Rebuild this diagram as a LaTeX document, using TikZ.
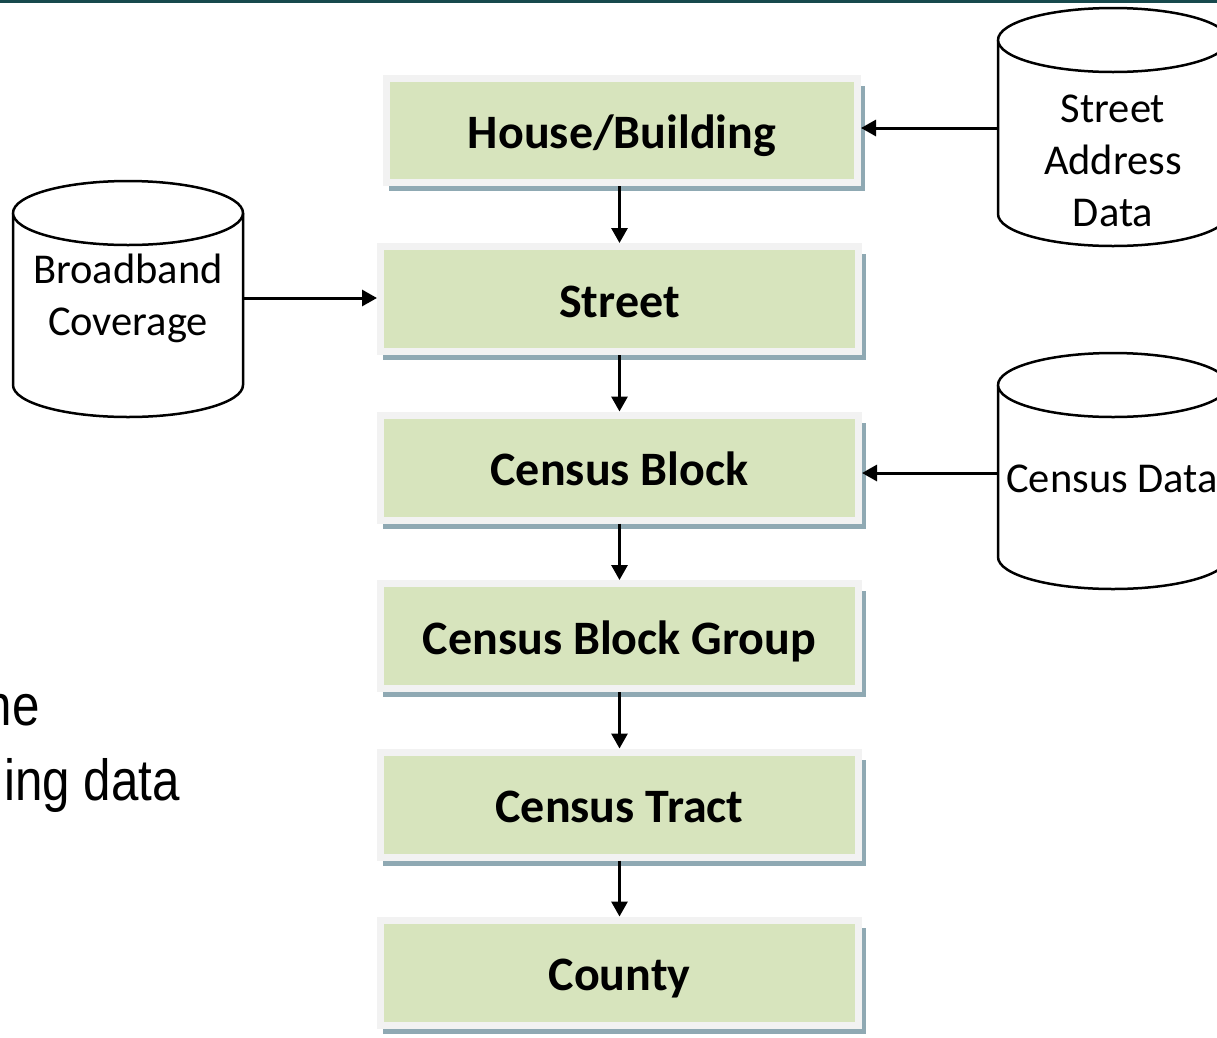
\documentclass[tikz,border=0pt]{standalone}
\usepackage{fontspec}
\setmainfont{Carlito}
\newfontfamily\arialfont{Liberation Sans}
\usetikzlibrary{arrows.meta,shadows}

\definecolor{boxfill}{HTML}{D7E4BD}
\definecolor{boxrim}{HTML}{F2F2F2}
\definecolor{boxshade}{HTML}{8FA9B3}
\definecolor{topbar}{HTML}{17494D}

% database drum: left x, right x, centre y of top ellipse, centre y of bottom ellipse
\newcommand\dbcyl[4]{%
  \pgfmathsetmacro\rx{(#2-#1)/2}%
  \draw[drum] (#1,#3) -- (#1,#4)
    arc[start angle=180,end angle=0,x radius=\rx,y radius=32]
    -- (#2,#3)
    arc[start angle=0,end angle=-180,x radius=\rx,y radius=32] -- cycle;
  \draw[drum] (#1,#3) arc[start angle=180,end angle=0,x radius=\rx,y radius=32];
}

\begin{document}
\begin{tikzpicture}[x=1pt,y=-1pt,
  lvl/.style={rectangle, draw=boxrim, line width=7pt, fill=boxfill,
    minimum width=478pt, minimum height=105pt, inner sep=0pt,
    text height=36pt, text depth=0pt,
    font=\fontsize{48}{56}\selectfont\bfseries,
    drop shadow={shadow xshift=5pt, shadow yshift=-8pt, shadow scale=1.01,
      fill=boxshade, opacity=1}},
  drum/.style={line width=2.5pt, fill=white},
  drumtext/.style={align=center, inner sep=0pt, font=\fontsize{42.5}{52}\selectfont},
  conn/.style={line width=3pt, -{Triangle[length=15pt,width=16pt]}},
  bodytext/.style={inner sep=0pt, font=\arialfont\fontsize{58}{70}\selectfont, xscale=0.85}]

\useasboundingbox (0,0) rectangle (1217,1037);
\clip (0,0) rectangle (1217,1037);
\fill[white] (0,0) rectangle (1217,1037);

% rule along the top
\fill[topbar] (0,0) rectangle (1217,2.5);

% hierarchy of geographic levels
\node[lvl, minimum width=471pt, minimum height=104pt] (hb) at (622,130.5) {House/Building};
\node[lvl] (st) at (619.5,299) {Street};
\node[lvl] (cb) at (619.5,467.5) {Census Block};
\node[lvl] (cbg) at (619.5,636) {Census Block Group};
\node[lvl] (ct) at (619.5,804.5) {Census Tract};
\node[lvl] (co) at (619.5,972.5) {County};

\draw[conn] (st.north |- hb.south) -- (st.north);
\draw[conn] (st) -- (cb);
\draw[conn] (cb) -- (cbg);
\draw[conn] (cbg) -- (ct);
\draw[conn] (ct) -- (co);

% data sources
\dbcyl{13}{243}{213}{385}
\node[drumtext] (bb) at (128,298) {Broadband\\Coverage};
\coordinate (bbR) at (243,298);

\dbcyl{998}{1228}{40}{214}
\node[drumtext] (sa) at (1113,161) {Street\\Address\\Data};
\coordinate (saL) at (998,128);

\dbcyl{998}{1228}{385}{557}
\node[drumtext] (cd) at (1112,479) {Census Data};
\coordinate (cdL) at (998,473);

\draw[conn] (saL) -- (saL -| hb.east);
\draw[conn] (bbR) -- (bbR -| st.west);
\draw[conn] (cdL) -- (cdL -| cb.east);

% slide text running in from the left
\node[bodytext, anchor=base east] (t1) at (40,725) {ne};
\node[bodytext, anchor=base east] (t2) at (180,800) {ing data};

\end{tikzpicture}
\end{document}
